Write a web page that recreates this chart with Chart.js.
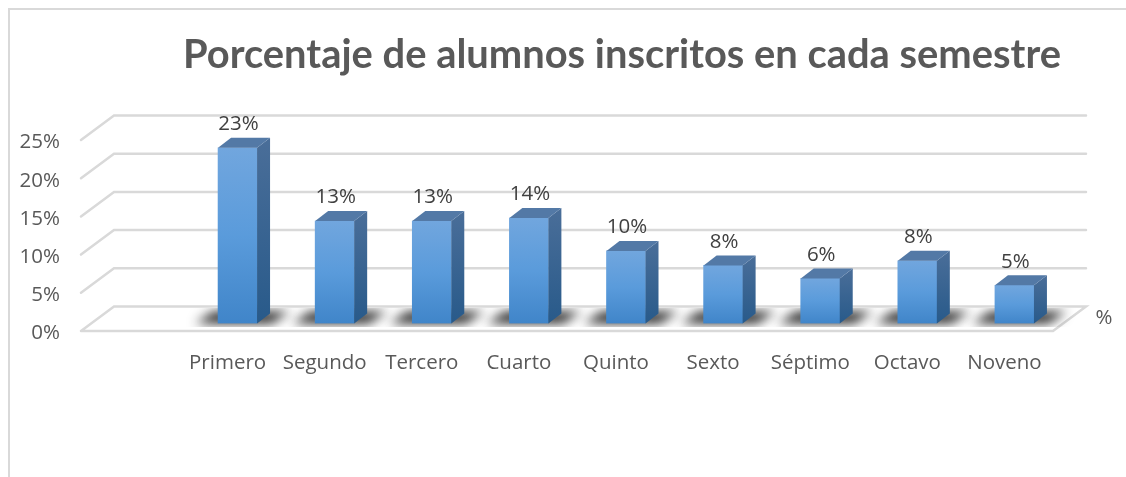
<!DOCTYPE html>
<html><head><meta charset="utf-8">
<style>html,body{margin:0;padding:0;background:#fff}canvas{display:block}</style>
<script src="https://cdn.jsdelivr.net/npm/chart.js@4"></script>
</head><body><canvas id="c" width="1126" height="477"></canvas>
<script>
const categories = ["Primero","Segundo","Tercero","Cuarto","Quinto","Sexto","Séptimo","Octavo","Noveno"];
const values = [23, 13.4, 13.4, 13.8, 9.5, 7.6, 5.9, 8.2, 5];
const yTicks = [0, 5, 10, 15, 20, 25];
const titleText = "Porcentaje de alumnos inscritos en cada semestre";
const axisUnit = "%";
const TITLE_FONT = "Lato, sans-serif";
const FONT = "'Open Sans', sans-serif";
const LABEL_SIZE = 20.5;
const DX = 13, DY = 10;

const scene = {
  id: 'scene',
  afterLayout(chart) {
    chart.titleBlock.left = 183;
    chart.titleBlock.right = 1061;
  },
  beforeDraw(chart) {
    const c = chart.ctx;
    c.save();
    c.strokeStyle = '#d9d9d9'; c.lineWidth = 2;
    c.beginPath(); c.moveTo(9, 477); c.lineTo(9, 9); c.lineTo(1126, 9); c.stroke();
    c.restore();
  },
  beforeDatasetsDraw(chart) {
    const c = chart.ctx, y = chart.scales.y, a = chart.chartArea;
    const lx = a.left - 108, rx = a.right + 23, backL = lx + 33;
    c.save();
    c.strokeStyle = '#d9d9d9'; c.lineWidth = 2.5; c.lineCap = 'round';
    yTicks.forEach(v => {
      const p = y.getPixelForValue(v), back = p - 17, front = p + 7.5;
      c.beginPath(); c.moveTo(lx, front); c.lineTo(backL, back); c.lineTo(rx, back);
      if (v === 0) { c.lineTo(rx - 33, front); c.lineTo(lx, front); }
      c.stroke();
    });
    // cast shadows on the floor: blurred parallelograms
    const base = y.getPixelForValue(0);
    c.beginPath(); c.rect(a.left - 40, base - 15.5, a.width + 90, 19); c.clip();
    chart.getDatasetMeta(0).data.forEach(b => {
      c.save();
      c.shadowColor = 'rgba(20,20,20,0.9)'; c.shadowBlur = 11;
      c.shadowOffsetX = 3000; c.fillStyle = '#000';
      c.beginPath();
      c.moveTo(b.x - 42 - 3000, base);
      c.lineTo(b.x - 24 - 3000, base - 12);
      c.lineTo(b.x + 52 - 3000, base - 12);
      c.lineTo(b.x + 34 - 3000, base);
      c.closePath(); c.fill();
      c.restore();
    });
    c.restore();
  },
  afterDatasetsDraw(chart) {
    const c = chart.ctx, y = chart.scales.y, base = y.getPixelForValue(0);
    c.save();
    chart.getDatasetMeta(0).data.forEach((b, i) => {
      const l = b.x - b.width / 2, r = b.x + b.width / 2, t = b.y;
      const side = c.createLinearGradient(0, t - DY, 0, base);
      side.addColorStop(0, '#4a6e99'); side.addColorStop(1, '#285a8a');
      c.fillStyle = side;
      c.beginPath(); c.moveTo(r, t); c.lineTo(r + DX, t - DY); c.lineTo(r + DX, base - DY); c.lineTo(r, base); c.closePath(); c.fill();
      c.fillStyle = '#5379a6';
      c.beginPath(); c.moveTo(l, t); c.lineTo(l + DX, t - DY); c.lineTo(r + DX, t - DY); c.lineTo(r, t); c.closePath(); c.fill();
      c.fillStyle = '#404040';
      c.font = LABEL_SIZE + "px " + FONT; c.textAlign = 'center'; c.textBaseline = 'middle';
      c.fillText(Math.round(values[i]) + '%', b.x + 1, t - 23.5);
    });
    c.fillStyle = '#595959'; c.font = LABEL_SIZE + "px " + FONT; c.textAlign = 'center'; c.textBaseline = 'middle';
    c.fillText(axisUnit, chart.chartArea.right + 41, base - 5);
    c.restore();
  }
};

new Chart(document.getElementById('c'), {
  type: 'bar',
  data: { labels: categories, datasets: [{
    data: values, barThickness: 39,
    backgroundColor(ctx) {
      const { chart, parsed } = ctx;
      if (!parsed || !chart.chartArea) return '#5b9bd5';
      const top = chart.scales.y.getPixelForValue(parsed.y), bot = chart.scales.y.getPixelForValue(0);
      const g = chart.ctx.createLinearGradient(0, top, 0, bot);
      g.addColorStop(0, '#71a6de'); g.addColorStop(0.5, '#5a9bdb'); g.addColorStop(1, '#4085c9');
      return g;
    }
  }] },
  options: {
    responsive: false, animation: false,
    layout: { autoPadding: false, padding: { left: 0, right: 63, top: 0, bottom: 0 } },
    plugins: {
      legend: { display: false }, tooltip: { enabled: false },
      title: { display: true, text: titleText, color: '#595959',
        font: { family: TITLE_FONT, size: 40, weight: 'bold' }, padding: { top: 31, bottom: 53.5 } }
    },
    scales: {
      x: { grid: { display: false, drawTicks: false }, border: { display: false },
        afterFit(s) { s.height = 153.5; },
        ticks: { color: '#595959', font: { family: FONT, size: LABEL_SIZE }, padding: 27, labelOffset: -10, autoSkip: false, maxRotation: 0 } },
      y: { min: 0, max: 25, grid: { display: false, drawTicks: false }, border: { display: false },
        afterFit(s) { s.width = 189; s.paddingTop = 0; s.paddingBottom = 0; },
        ticks: { stepSize: 5, color: '#595959', font: { family: FONT, size: LABEL_SIZE }, padding: 129, labelOffset: 10,
          callback: v => v + '%' } }
    }
  },
  plugins: [scene]
});
</script></body></html>
